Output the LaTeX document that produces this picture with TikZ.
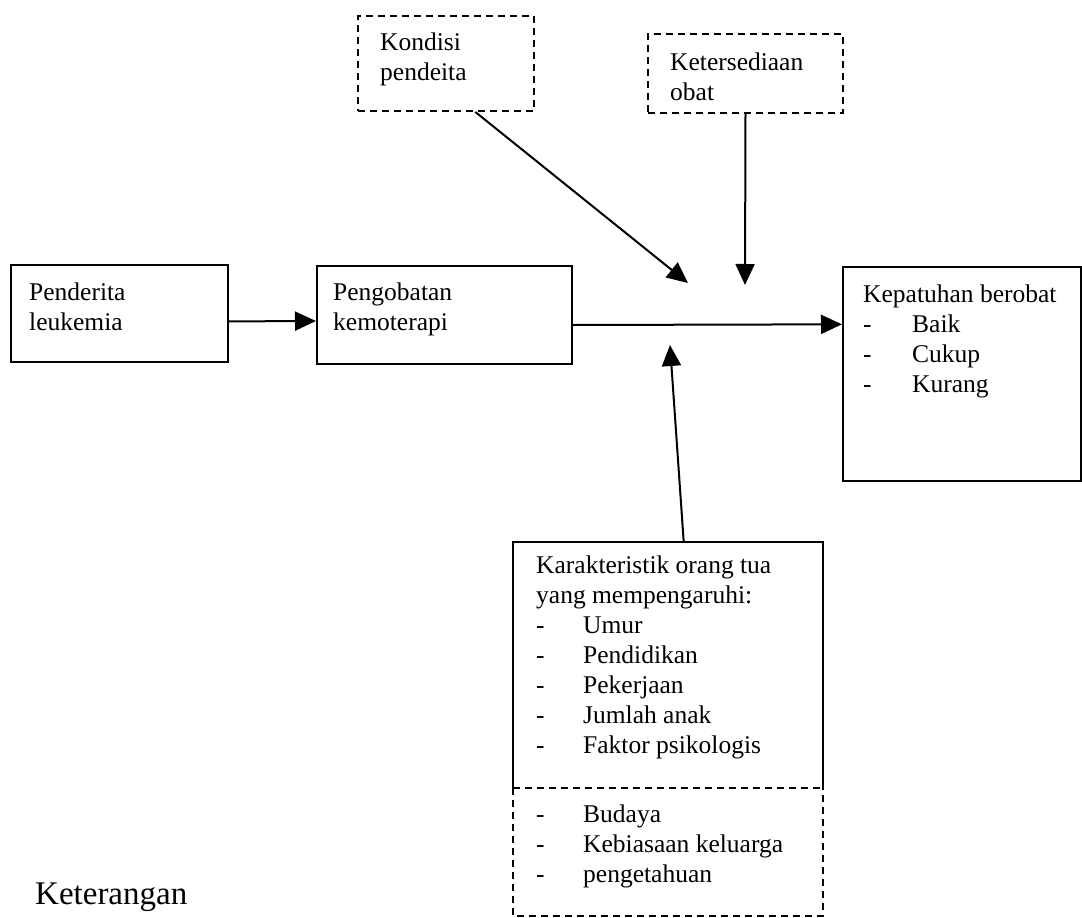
\documentclass[tikz,border=0pt]{standalone}
\usepackage{fontspec}
\setmainfont{Liberation Serif}
\usetikzlibrary{arrows.meta,calc}
\begin{document}
\begin{tikzpicture}[x=1pt,y=-1pt,
  box/.style={draw, line width=2pt, inner sep=0pt, anchor=north west},
  dashpat/.style={line width=2pt, dash pattern=on 7pt off 5pt},
  dbox/.style={box, dashpat},
  ghost/.style={inner sep=0pt, anchor=north west},
  txt/.style={anchor=north west, inner sep=0pt, align=left, font=\fontsize{25.5}{30}\selectfont},
  arr/.style={line width=2pt, -{Triangle[length=21pt,width=19pt]}}]
\newcommand{\bul}[2]{\makebox[#1][l]{-}#2}
\useasboundingbox (0,0) rectangle (1082,918);

% boxes
\node[box, minimum width=217pt, minimum height=97pt] (pl) at (10,264) {};
\node[box, minimum width=255pt, minimum height=98pt] (pk) at (316,265) {};
\node[box, minimum width=238pt, minimum height=214pt] (kb) at (842,266) {};
\node[dbox, minimum width=176pt, minimum height=95pt] (kp) at (357,15) {};
\node[dbox, minimum width=195pt, minimum height=79pt] (ko) at (647,33) {};
\node[ghost, minimum width=310pt, minimum height=246pt] (kt) at (513,542) {};
\coordinate (ktb) at (513,916);

% bottom box borders
\draw[line width=2pt] (kt.south west) -- (kt.north west) -- (kt.north east) -- (kt.south east);
\draw[dashpat] (kt.south west) -- (kt.south east);
\draw[dashpat] (kt.south west) -- (ktb) -- (ktb -| kt.south east) -- (kt.south east);

% texts
\node[txt] (tpl) at (29,283) {Penderita\\leukemia};
\node[txt] (tpk) at (333,283) {Pengobatan\\kemoterapi};
\node[txt] (tkb) at (863,285) {Kepatuhan berobat\\\bul{49pt}{Baik}\\\bul{49pt}{Cukup}\\\bul{49pt}{Kurang}};
\node[txt] (tkp) at (380,33) {Kondisi\\pendeita};
\node[txt] (tko) at (670,53) {Ketersediaan\\obat};
\node[txt] (tkt) at (536,556) {Karakteristik orang tua\\yang mempengaruhi:\\\bul{47pt}{Umur}\\\bul{47pt}{Pendidikan}\\\bul{47pt}{Pekerjaan}\\\bul{47pt}{Jumlah anak}\\\bul{47pt}{Faktor psikologis}};
\node[txt] (tkt2) at (536,805) {\bul{47pt}{Budaya}\\\bul{47pt}{Kebiasaan keluarga}\\\bul{47pt}{pengetahuan}};
\node[txt, font=\fontsize{33}{38}\selectfont] (ket) at (35,883) {Keterangan};

% arrows
\coordinate (tipA) at (688,283);
\coordinate (tipB) at (745,285);
\coordinate (tipC) at (670,345);
\draw[arr] ($(pl.north east)!0.58!(pl.south east)$) -- ($(pk.north west)!0.56!(pk.south west)$);
\draw[arr] ($(pk.north east)!0.6!(pk.south east)$) -- ($(kb.north west)!0.27!(kb.south west)$);
\draw[arr] ($(kp.south west)!0.665!(kp.south east)$) -- (tipA);
\draw[arr] (ko.south) -- (tipB);
\draw[arr] ($(kt.north west)!0.55!(kt.north east)$) -- (tipC);
\end{tikzpicture}
\end{document}
